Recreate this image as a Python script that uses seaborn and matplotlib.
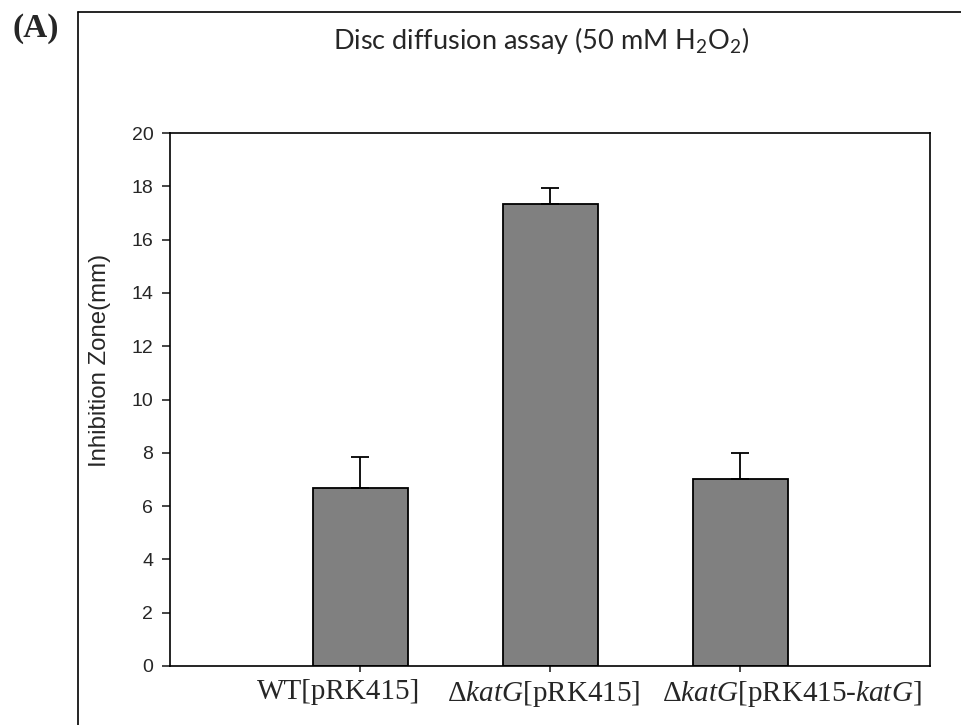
import matplotlib
matplotlib.use("Agg")
import matplotlib.pyplot as plt
import seaborn as sns
from matplotlib.lines import Line2D
from matplotlib.transforms import ScaledTranslation

categories = ["WT[pRK415]", "dkatG[pRK415]", "dkatG[pRK415-katG]"]
tick_labels = [r"WT[pRK415]",
               r"$\Delta\mathit{katG}$[pRK415]",
               r"$\Delta\mathit{katG}$[pRK415-$\mathit{katG}$]"]
values = [6.67, 17.35, 7.02]
errors = [1.16, 0.57, 0.98]
yticks = [0, 2, 4, 6, 8, 10, 12, 14, 16, 18, 20]

sns.set_style("white")
plt.rcParams["font.family"] = ["Liberation Sans", "DejaVu Sans"]
plt.rcParams["mathtext.fontset"] = "custom"
plt.rcParams["mathtext.rm"] = "Liberation Serif"
plt.rcParams["mathtext.it"] = "Liberation Serif:italic"
plt.rcParams["mathtext.sf"] = "Lato"

fig = plt.figure(figsize=(9.62, 7.25), dpi=100)
ax = fig.add_axes([170/962, 1-666/725, 760/962, 533/725])

sns.barplot(x=categories, y=values, color="#808080", saturation=1,
            edgecolor="black", linewidth=1.3, width=0.5, ax=ax)
ax.errorbar(range(len(values)), values, yerr=[[0]*len(errors), errors],
            fmt="none", ecolor="black", elinewidth=1.3, capsize=6.5, capthick=1.3)

ax.set_xlim(-1, 3)
ax.set_ylim(0, 20)
ax.set_yticks(yticks)
ax.set_yticklabels([str(t) for t in yticks], fontsize=14)
ax.set_xticks(range(len(values)))
ax.set_xticklabels(tick_labels, fontsize=21, family="Liberation Serif")
ax.set_ylabel("Inhibition Zone(mm)", fontsize=17.3)
ax.yaxis.set_label_coords(-0.078, (666-360)/533)
ax.set_xlabel("")
for s in ax.spines.values():
    s.set_visible(True)
    s.set_color("black")
    s.set_linewidth(1.2)
ax.tick_params(axis="y", direction="out", length=6, width=1.2, left=True, pad=6)
ax.tick_params(axis="x", direction="out", length=4.5, width=1.2, bottom=True, pad=5)

offsets_px = [-21, -6, 52]
for lab, dx in zip(ax.get_xticklabels(), offsets_px):
    lab.set_transform(lab.get_transform() + ScaledTranslation(dx/100, 0, fig.dpi_scale_trans))

fig.text(541/962, 1-41/725, r"Disc diffusion assay (50 mM $\mathsf{H_2O_2}$)",
         ha="center", va="center", fontsize=19.5, family="Lato")
fig.text(13/962, 1-37/725, "(A)", ha="left", va="baseline", fontsize=24,
         fontweight="bold", family="Liberation Serif")

fig.add_artist(Line2D([78/962, 1.0], [1-12/725, 1-12/725], color="black", lw=1.2,
                      transform=fig.transFigure))
fig.add_artist(Line2D([78/962, 78/962], [0, 1-12/725], color="black", lw=1.2,
                      transform=fig.transFigure))

fig.savefig("out.png", dpi=100)
